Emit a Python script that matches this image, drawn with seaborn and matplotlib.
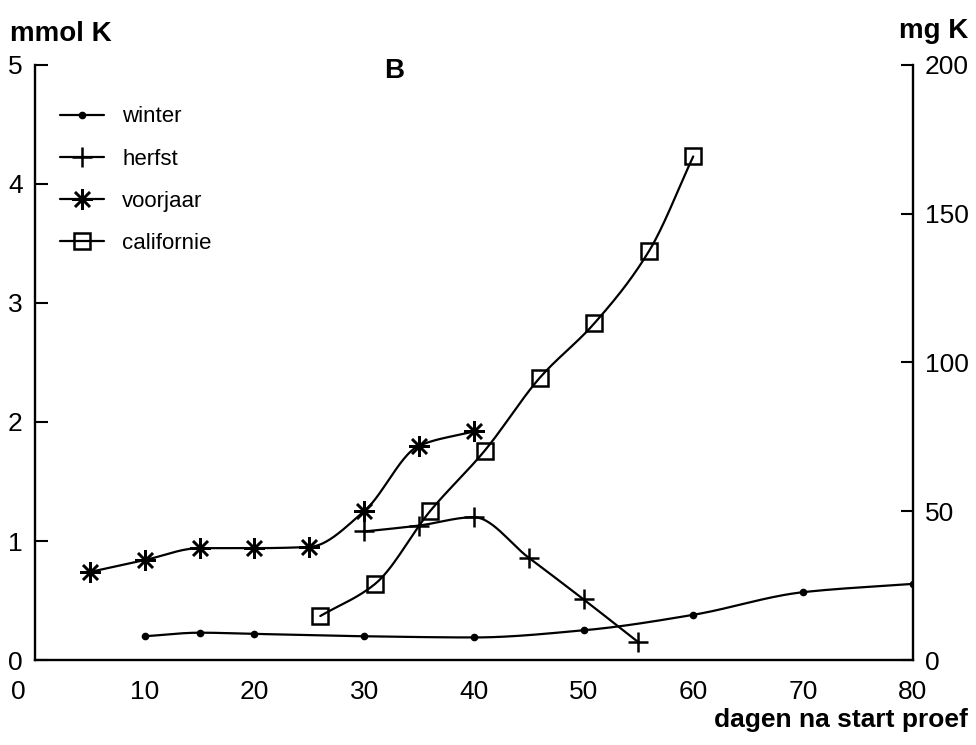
import numpy as np
import pandas as pd
import seaborn as sns
import matplotlib
matplotlib.use("Agg")
import matplotlib.pyplot as plt
from matplotlib.lines import Line2D
import matplotlib.transforms as mtransforms

# ---- data ----
winter_x = [10, 15, 20, 30, 40, 50, 60, 70, 80]
winter_y = [0.20, 0.23, 0.22, 0.20, 0.19, 0.25, 0.38, 0.57, 0.64]

herfst_x = [30, 35, 40, 45, 50, 55]
herfst_y = [1.08, 1.13, 1.20, 0.86, 0.51, 0.15]

voorjaar_x = [5, 10, 15, 20, 25, 30, 35, 40]
voorjaar_y = [0.74, 0.84, 0.94, 0.94, 0.95, 1.25, 1.80, 1.92]

californie_x = [26, 31, 36, 41, 46, 51, 56, 60]
californie_y = [0.37, 0.64, 1.25, 1.76, 2.37, 2.83, 3.44, 4.23]

series_names = ["winter", "herfst", "voorjaar", "californie"]
x_ticks = [0, 10, 20, 30, 40, 50, 60, 70, 80]
y_ticks = [0, 1, 2, 3, 4, 5]
y2_ticks = [0, 50, 100, 150, 200]
mg_per_mmol = 40.0


def smooth(xs, ys, n=30):
    """Monotone cubic (PCHIP) curve through the data points, for drawing only."""
    x = np.asarray(xs, float)
    y = np.asarray(ys, float)
    h = np.diff(x)
    d = np.diff(y) / h
    m = np.zeros_like(y)
    for k in range(1, len(x) - 1):
        if d[k - 1] * d[k] > 0:
            w1 = 2 * h[k] + h[k - 1]
            w2 = h[k] + 2 * h[k - 1]
            m[k] = (w1 + w2) / (w1 / d[k - 1] + w2 / d[k])
    m[0] = d[0]
    m[-1] = d[-1]
    xo, yo = [], []
    for k in range(len(x) - 1):
        t = np.linspace(0, 1, n)
        if k > 0:
            t = t[1:]
        h00 = 2 * t**3 - 3 * t**2 + 1
        h10 = t**3 - 2 * t**2 + t
        h01 = -2 * t**3 + 3 * t**2
        h11 = t**3 - t**2
        xo.append(x[k] + t * h[k])
        yo.append(h00 * y[k] + h10 * h[k] * m[k] + h01 * y[k + 1] + h11 * h[k] * m[k + 1])
    return np.concatenate(xo), np.concatenate(yo)


sns.set_theme(style="white")
plt.rcParams['font.family'] = ['Liberation Sans', 'DejaVu Sans']
plt.rcParams['text.color'] = 'black'
plt.rcParams['xtick.color'] = 'black'
plt.rcParams['ytick.color'] = 'black'

fig = plt.figure(figsize=(9.76, 7.45), dpi=100)
ax = fig.add_axes([0.036, 0.114, 0.899, 0.799])

styles = {
    "winter": dict(marker="o", ms=4.5, mfc="black", mec="black", mew=1),
    "herfst": dict(marker="+", ms=15, mfc="black", mec="black", mew=1.8),
    "voorjaar": dict(marker=(8, 2, 0), ms=15, mfc="black", mec="black", mew=1.8),
    "californie": dict(marker="s", ms=12, mfc="none", mec="black", mew=1.8),
}
data = {
    "winter": (winter_x, winter_y),
    "herfst": (herfst_x, herfst_y),
    "voorjaar": (voorjaar_x, voorjaar_y),
    "californie": (californie_x, californie_y),
}

for name in series_names:
    xs, ys = data[name]
    sx, sy = smooth(xs, ys)
    sns.lineplot(x=sx, y=sy, ax=ax, color="black", lw=1.6, sort=False,
                 estimator=None, legend=False)
    ax.plot(xs, ys, linestyle="none", color="black", **styles[name])

ax.set_xlim(0, 80)
ax.set_ylim(0, 5)
ax.set_xticks(x_ticks)
ax.set_yticks(y_ticks)
ax.tick_params(direction="in", length=9, width=1.5, labelsize=19, color="black",
               labelcolor="black")
ax.tick_params(axis="x", pad=14)
ax.tick_params(axis="y", pad=9)
for s in ["left", "bottom", "right"]:
    ax.spines[s].set_color("black")
    ax.spines[s].set_linewidth(1.7)
ax.spines["top"].set_visible(False)

# shift the x "0" label a little left as in reference
lab0 = ax.get_xticklabels()[0]
lab0.set_transform(lab0.get_transform() + mtransforms.ScaledTranslation(-0.17, 0, fig.dpi_scale_trans))

ax2 = ax.twinx()
ax2.set_ylim(0, 5 * mg_per_mmol)
ax2.set_yticks(y2_ticks)
ax2.tick_params(direction="in", length=9, width=1.5, labelsize=19, color="black",
                labelcolor="black", pad=9)
for s in ["left", "bottom", "right", "top"]:
    ax2.spines[s].set_visible(False)
ax2.grid(False)
ax.grid(False)

# legend
handles = [Line2D([0], [0], color="black", lw=1.6, **styles[n]) for n in series_names]
leg = ax.legend(handles, series_names, loc="upper left", bbox_to_anchor=(0.018, 0.945),
                frameon=False, fontsize=16, handlelength=2.0, labelspacing=0.95,
                handletextpad=0.8, borderaxespad=0)
for t in leg.get_texts():
    t.set_color("black")

fig.text(0.01, 0.955, "mmol K", fontsize=20, fontweight="bold", ha="left", va="center")
fig.text(0.992, 0.958, "mg K", fontsize=20, fontweight="bold", ha="right", va="center")
fig.text(0.404, 0.905, "B", fontsize=20, fontweight="bold", ha="center", va="center")
fig.text(0.992, 0.034, "dagen na start proef", fontsize=19, fontweight="bold",
         ha="right", va="center")

fig.savefig("out.png", dpi=100)
